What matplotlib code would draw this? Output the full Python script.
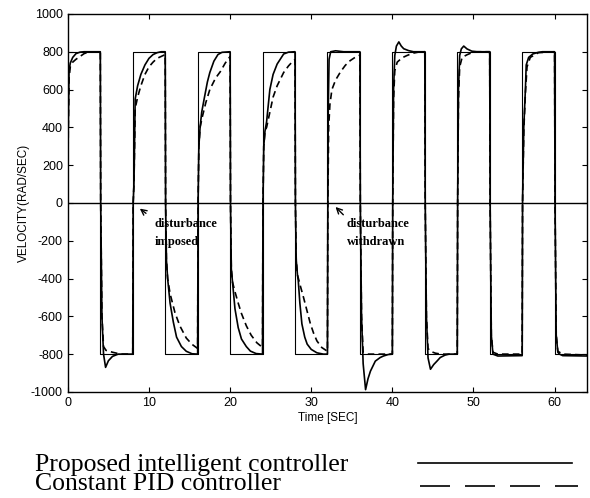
import numpy as np
import matplotlib
matplotlib.use('Agg')
from matplotlib import pyplot as plt

# reference square wave: switching instants and level held after each one
switch_t = [0, 4, 8, 12, 16, 20, 24, 28, 32, 36, 40, 44, 48, 52, 56, 60, 64]
ref_level = [800, -800, 800, -800, 800, -800, 800, -800, 800, -800, 800, -800, 800, -800, 800, -800, -800]

# proposed intelligent controller
proposed_t = [0, 0.05, 0.15, 0.3, 0.6, 1.0, 1.5, 2.0, 4.0,
              4.05, 4.2, 4.4, 4.65, 5.0, 5.5, 6.2, 8.0,
              8.05, 8.15, 8.3, 8.6, 9.0, 9.5, 10.0, 10.5, 11.0, 11.5, 12.0,
              12.05, 12.15, 12.3, 12.6, 13.0, 13.4, 14.0, 14.6, 15.3, 16.0,
              16.05, 16.15, 16.3, 16.5, 16.8, 17.2, 17.5, 18.0, 18.5, 19.0, 20.0,
              20.05, 20.15, 20.3, 20.6, 21.0, 21.4, 22.0, 22.5, 23.2, 24.0,
              24.05, 24.15, 24.3, 24.5, 24.9, 25.3, 25.8, 26.6, 27.2, 28.0,
              28.05, 28.15, 28.3, 28.4, 28.6, 28.85, 29.2, 29.5, 30.0, 30.7, 31.5, 32.0,
              32.05, 32.1, 32.2, 32.4, 33.0, 34.0, 36.0,
              36.05, 36.2, 36.4, 36.7, 37.0, 37.3, 37.9, 38.5, 38.9, 39.5, 40.0,
              40.05, 40.15, 40.3, 40.5, 40.8, 41.1, 41.4, 42.0, 42.6, 44.0,
              44.05, 44.2, 44.4, 44.7, 45.1, 45.5, 45.9, 46.5, 47.0, 48.0,
              48.05, 48.15, 48.3, 48.5, 48.8, 49.2, 49.8, 50.5, 52.0,
              52.05, 52.2, 52.4, 53.0, 56.0,
              56.05, 56.2, 56.4, 56.5, 56.8, 57.3, 57.9, 58.5, 60.0,
              60.05, 60.2, 60.4, 60.6, 61.0, 64.0]
proposed_v = [0, 400, 700, 740, 770, 790, 798, 800, 800,
              0, -600, -800, -870, -835, -812, -800, -800,
              0, 100, 550, 620, 680, 730, 765, 785, 795, 800, 800,
              0, -300, -400, -530, -630, -710, -760, -785, -798, -800,
              0, 300, 400, 480, 550, 640, 690, 750, 785, 797, 800,
              0, -350, -420, -560, -660, -720, -760, -784, -797, -800,
              0, 300, 380, 430, 600, 680, 735, 788, 798, 800,
              0, -300, -380, -410, -530, -640, -710, -747, -775, -793, -800, -800,
              0, 500, 760, 800, 805, 800, 800,
              0, -600, -850, -988, -930, -890, -837, -818, -810, -802, -800,
              0, 600, 780, 830, 852, 830, 816, 806, 800, 800,
              0, -600, -820, -880, -855, -837, -818, -805, -800, -800,
              0, 600, 780, 815, 830, 815, 803, 800, 800,
              0, -700, -800, -810, -808,
              0, 400, 600, 730, 770, 788, 796, 800, 800,
              0, -700, -790, -800, -808, -810]

# constant PID controller
pid_t = [0, 0.05, 0.15, 0.3, 0.6, 1.0, 1.5, 2.0, 2.5, 4.0,
         4.05, 4.2, 4.4, 4.7, 5.5, 6.5, 8.0,
         8.05, 8.15, 8.3, 8.6, 9.0, 9.5, 10.0, 10.5, 11.0, 11.5, 12.0,
         12.05, 12.15, 12.3, 12.6, 13.2, 13.8, 14.6, 15.3, 16.0,
         16.05, 16.15, 16.3, 16.6, 17.0, 17.5, 18.2, 18.8, 19.4, 20.0,
         20.05, 20.15, 20.3, 20.6, 21.0, 21.4, 22.0, 22.6, 23.3, 24.0,
         24.05, 24.15, 24.3, 24.5, 24.9, 25.3, 25.8, 26.6, 27.2, 27.8, 28.0,
         28.05, 28.15, 28.3, 28.6, 29.05, 29.5, 29.9, 30.3, 30.7, 31.3, 32.0,
         32.05, 32.15, 32.3, 32.55, 33.0, 33.6, 34.2, 34.8, 35.4, 36.0,
         36.05, 36.2, 36.4, 37.0, 40.0,
         40.05, 40.15, 40.3, 40.6, 41.2, 41.8, 42.5, 43.2, 44.0,
         44.05, 44.2, 44.4, 44.7, 45.3, 46.0, 48.0,
         48.05, 48.15, 48.3, 48.6, 49.2, 49.8, 50.5, 52.0,
         52.05, 52.2, 52.4, 53.0, 56.0,
         56.05, 56.2, 56.4, 56.6, 57.0, 58.0, 60.0,
         60.05, 60.2, 60.4, 61.0, 64.0]
pid_v = [0, 380, 660, 720, 745, 760, 775, 790, 798, 800,
         0, -600, -760, -780, -790, -800, -800,
         0, 100, 500, 560, 620, 680, 720, 745, 765, 775, 785,
         0, -300, -400, -480, -580, -650, -715, -748, -770,
         0, 300, 400, 460, 530, 600, 660, 695, 740, 775,
         0, -350, -420, -470, -530, -585, -650, -700, -740, -765,
         0, 300, 380, 400, 480, 560, 620, 690, 725, 753, 758,
         0, -300, -380, -430, -500, -575, -640, -690, -730, -765, -785,
         0, 400, 520, 600, 650, 693, 728, 753, 770, 782,
         0, -600, -790, -800, -800,
         0, 550, 700, 745, 768, 780, 792, 798, 800,
         0, -600, -770, -785, -795, -800, -800,
         0, 550, 720, 770, 784, 795, 800, 800,
         0, -700, -790, -800, -800,
         0, 380, 580, 720, 770, 795, 800,
         0, -700, -785, -800, -805]

x_ticks = [0, 10, 20, 30, 40, 50, 60]
y_ticks = [-1000, -800, -600, -400, -200, 0, 200, 400, 600, 800, 1000]
legend_lines = ['Proposed intelligent controller', 'Constant PID controller']

plt.rcParams['font.family'] = ['Liberation Sans', 'DejaVu Sans']
plt.rcParams['axes.unicode_minus'] = False

fig = plt.figure(figsize=(5.9, 4.98), dpi=100)
ax = fig.add_axes([0.115, 0.213, 0.880, 0.759])

ax.step(switch_t, ref_level, where='post', color='black', lw=0.8)
ax.axhline(0, color='black', lw=1.0)
ax.plot(proposed_t, proposed_v, color='black', lw=1.2)
ax.plot(pid_t, pid_v, color='black', lw=1.2, linestyle=(0, (4, 2.5)))

ax.set_xlim(0, 64)
ax.set_ylim(-1000, 1000)
ax.set_xticks(x_ticks)
ax.set_yticks(y_ticks)
ax.tick_params(direction='in', top=True, right=True, length=3.5, labelsize=9)
for s in ax.spines.values():
    s.set_linewidth(1.0)
ax.set_xlabel('Time [SEC]', fontsize=8.5, labelpad=2)
ax.set_ylabel('VELOCITY(RAD/SEC)', fontsize=8.5, labelpad=1)

# annotations
ax.annotate('', xy=(8.6, -21), xytext=(9.9, -64),
            arrowprops=dict(arrowstyle='->', color='black', lw=1.0))
ax.text(10.7, -112, 'disturbance', fontsize=9, fontweight='bold',
        family='Liberation Serif', va='center')
ax.text(10.7, -208, 'imposed', fontsize=9, fontweight='bold',
        family='Liberation Serif', va='center')
ax.annotate('', xy=(32.75, -11), xytext=(34.2, -73),
            arrowprops=dict(arrowstyle='->', color='black', lw=1.0))
ax.text(34.4, -112, 'disturbance', fontsize=9, fontweight='bold',
        family='Liberation Serif', va='center')
ax.text(34.4, -208, 'withdrawn', fontsize=9, fontweight='bold',
        family='Liberation Serif', va='center')

# legend drawn under the axes (one text block, tight line spacing)
fig.text(0.059, 0.016, '\n'.join(legend_lines), fontsize=18.5,
         family='Liberation Serif', va='baseline', linespacing=0.8)
fig.add_artist(plt.Line2D([0.708, 0.970], [0.070, 0.070], color='black', lw=1.2))
fig.add_artist(plt.Line2D([0.712, 0.980], [0.024, 0.024], color='black', lw=1.2,
                          linestyle=(0, (18, 9))))

plt.savefig('out.png', dpi=100)
